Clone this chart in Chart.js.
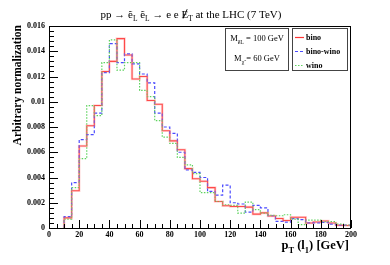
<!DOCTYPE html>
<html>
<head>
<meta charset="utf-8">
<script src="https://cdn.jsdelivr.net/npm/chart.js@4/dist/chart.umd.min.js"></script>
<style>
  html, body { margin: 0; padding: 0; background: #fff; }
  #wrap { width: 390px; height: 265px; }
</style>
</head>
<body>
<div id="wrap"><canvas id="myChart"></canvas></div>
<script>
// bin edges of the pT(l1) histogram, GeV (5 GeV bins)
const binEdges = [10, 15, 20, 25, 30, 35, 40, 45, 50, 55, 60, 65, 70, 75, 80, 85, 90, 95, 100,
  105, 110, 115, 120, 125, 130, 135, 140, 145, 150, 155, 160, 165, 170, 175, 180, 185, 190, 195, 200];

const bino = [0.0008, 0.00295, 0.0065, 0.0081, 0.0097, 0.0124, 0.0132, 0.0150, 0.0137, 0.0118,
  0.0120, 0.0101, 0.0098, 0.0077, 0.0069, 0.0062, 0.0047, 0.0039, 0.0037, 0.0032,
  0.0021, 0.00176, 0.0017, 0.0017, 0.00165, 0.0011, 0.0012, 0.00095, 0.00075, 0.0006,
  0.00085, 0.00085, 0.0004, 0.00047, 0.00055, 0.0004, 0.00022, 0.0002];

const binoWino = [0.0009, 0.0036, 0.0070, 0.0074, 0.0091, 0.0123, 0.0146, 0.0131, 0.0138, 0.0130,
  0.0122, 0.0115, 0.0091, 0.0080, 0.0075, 0.0060, 0.0046, 0.0044, 0.0040, 0.0029,
  0.0026, 0.0034, 0.0020, 0.0019, 0.00126, 0.0018, 0.0016, 0.00097, 0.00052, 0.00047,
  0.00074, 0.00066, 0.0004, 0.0004, 0.00045, 0.00031, 0.00023, 0.00023];

const wino = [0.0007, 0.0032, 0.0055, 0.0097, 0.0089, 0.0131, 0.0149, 0.0125, 0.0131, 0.0131,
  0.0109, 0.0104, 0.0085, 0.0072, 0.0067, 0.0056, 0.0050, 0.0043, 0.0028, 0.0028,
  0.0021, 0.00184, 0.0018, 0.00118, 0.00205, 0.00145, 0.00118, 0.0010, 0.00097, 0.00105,
  0.0007, 0.00026, 0.00063, 0.00063, 0.0005, 0.0005, 0.0003, 0.00023];

const xTickValues = [0, 20, 40, 60, 80, 100, 120, 140, 160, 180, 200];
const yTickValues = [0, 0.002, 0.004, 0.006, 0.008, 0.01, 0.012, 0.014, 0.016];

const legendNames = ['bino', 'bino-wino', 'wino'];

const SERIF = '"Liberation Serif", "Times New Roman", serif';

// histogram as step line: value of bin i is drawn between edge i and edge i+1
function toSteps(values) {
  const pts = [{ x: binEdges[0], y: 0 }];
  values.forEach((v, i) => pts.push({ x: binEdges[i + 1], y: v }));
  return pts;
}

// draws text runs with subscripts, like ROOT's TLatex
function drawRich(ctx, parts, x, y, size, weight, align) {
  const fontFor = k => `${weight} ${k === 'sub' ? size * 0.68 : size}px ${SERIF}`;
  let total = 0;
  const widths = parts.map(([t, k]) => {
    ctx.font = fontFor(k);
    const w = ctx.measureText(t).width;
    total += w;
    return w;
  });
  let cx = align === 'center' ? x - total / 2 : align === 'right' ? x - total : x;
  ctx.textAlign = 'left';
  ctx.textBaseline = 'alphabetic';
  parts.forEach(([t, k], i) => {
    ctx.font = fontFor(k);
    const ty = k === 'sub' ? y + size * 0.3 : y;
    ctx.fillText(t, cx, ty);
    if (k === 'slash') {
      ctx.beginPath();
      ctx.lineWidth = 0.9;
      ctx.moveTo(cx + widths[i] * 0.25, y + 0.5);
      ctx.lineTo(cx + widths[i] * 0.85, y - size * 0.8);
      ctx.stroke();
    }
    cx += widths[i];
  });
}

const decorations = {
  id: 'decorations',
  afterDraw(chart) {
    const { ctx, chartArea: a, scales: { x, y } } = chart;
    ctx.save();
    ctx.fillStyle = '#000';
    ctx.strokeStyle = '#000';

    // frame
    ctx.lineWidth = 1;
    ctx.strokeRect(a.left + 0.5, a.top + 0.5, a.right - a.left - 1, a.bottom - a.top);

    // inward ticks, ROOT style
    ctx.beginPath();
    for (let v = 0; v <= 200; v += 5) {
      const px = Math.round(x.getPixelForValue(v)) + 0.5;
      const len = v % 20 === 0 ? 8 : 4;
      ctx.moveTo(px, a.bottom);
      ctx.lineTo(px, a.bottom - len);
    }
    for (let i = 0; i <= 40; i++) {
      const py = Math.round(y.getPixelForValue(i * 0.0004)) + 0.5;
      const len = i % 5 === 0 ? 9 : 5;
      ctx.moveTo(a.left, py);
      ctx.lineTo(a.left + len, py);
    }
    ctx.stroke();

    // title
    drawRich(ctx, [['pp \u2192 ', ''], ['\u1EBD', ''], ['L', 'sub'], [' ', ''], ['\u1EBD', ''], ['L', 'sub'],
      [' \u2192 e e ', ''], ['E', 'slash'], ['T', 'sub'], [' at the LHC (7 TeV)', '']],
      191, 18, 11, 'normal', 'center');

    // y axis title
    ctx.save();
    ctx.translate(18, 25);
    ctx.rotate(-Math.PI / 2);
    ctx.font = `bold 11.5px ${SERIF}`;
    ctx.textAlign = 'right';
    ctx.textBaseline = 'middle';
    ctx.fillText('Arbitrary normalization', 0, 0);
    ctx.restore();

    // x axis title
    drawRich(ctx, [['p', ''], ['T', 'sub'], [' (l', ''], ['1', 'sub'], [') [GeV]', '']],
      349, 249, 12.5, 'bold', 'right');

    // mass box
    ctx.lineWidth = 1;
    ctx.strokeStyle = '#444';
    ctx.strokeRect(225.5, 28.5, 63, 42);
    drawRich(ctx, [['M', ''], ['\u1EBD', 'sub'], ['L', 'sub'], [' = 100 GeV', '']], 257, 41, 8.5, 'normal', 'center');
    drawRich(ctx, [['M', ''], ['\u03C7\u0303', 'sub'], [' = 60 GeV', '']], 257, 61, 8.5, 'normal', 'center');

    // legend box
    ctx.strokeStyle = '#444';
    ctx.strokeRect(292.5, 28.5, 55, 42);
    const rows = [37, 51, 65];
    legendNames.forEach((name, i) => {
      const d = chart.data.datasets.find(s => s.label === name);
      ctx.beginPath();
      ctx.strokeStyle = d.borderColor;
      ctx.lineWidth = 1.2;
      ctx.setLineDash(d.borderDash || []);
      ctx.moveTo(295, rows[i] + 0.5);
      ctx.lineTo(304, rows[i] + 0.5);
      ctx.stroke();
      ctx.setLineDash([]);
      ctx.font = `bold 8px ${SERIF}`;
      ctx.textAlign = 'left';
      ctx.textBaseline = 'middle';
      ctx.fillStyle = '#000';
      ctx.fillText(name, 306, rows[i] + 0.5);
    });
    ctx.restore();
  }
};

const ctx = document.getElementById('myChart').getContext('2d');
new Chart(ctx, {
  type: 'line',
  data: {
    datasets: [
      {
        // faint band under the bino curve
        data: toSteps(bino),
        borderColor: 'rgba(255, 120, 120, 0.3)',
        borderWidth: 2.6
      },
      {
        label: legendNames[2],
        data: toSteps(wino),
        borderColor: '#5fd35f',
        borderWidth: 1.2,
        borderDash: [1.5, 1.5]
      },
      {
        label: legendNames[1],
        data: toSteps(binoWino),
        borderColor: '#4b4bff',
        borderWidth: 1.2,
        borderDash: [3, 2]
      },
      {
        label: legendNames[0],
        data: toSteps(bino),
        borderColor: '#ff3535',
        borderWidth: 1.1
      }
    ]
  },
  options: {
    responsive: true,
    maintainAspectRatio: false,
    devicePixelRatio: 1,
    animation: false,
    layout: { padding: { top: 26, right: 39, left: 0, bottom: 0 } },
    elements: {
      line: { stepped: 'after', tension: 0, fill: false },
      point: { radius: 0 }
    },
    plugins: {
      legend: { display: false },
      tooltip: { enabled: false },
      title: { display: false }
    },
    scales: {
      x: {
        type: 'linear',
        min: 0,
        max: 200,
        afterFit: s => { s.height = 37; },
        afterBuildTicks: s => { s.ticks = xTickValues.map(v => ({ value: v })); },
        grid: { drawOnChartArea: false, drawTicks: false },
        border: { display: false },
        ticks: {
          padding: 2,
          maxRotation: 0,
          color: '#000',
          font: { family: SERIF, weight: 'bold', size: 8 },
          callback: v => String(v)
        }
      },
      y: {
        type: 'linear',
        min: 0,
        max: 0.016,
        afterFit: s => { s.width = 49; },
        afterBuildTicks: s => { s.ticks = yTickValues.map(v => ({ value: v })); },
        grid: { drawOnChartArea: false, drawTicks: false },
        border: { display: false },
        ticks: {
          padding: 4,
          color: '#000',
          font: { family: SERIF, weight: 'bold', size: 8 },
          callback: v => String(parseFloat(v.toFixed(3)))
        }
      }
    }
  },
  plugins: [decorations]
});
</script>
</body>
</html>
